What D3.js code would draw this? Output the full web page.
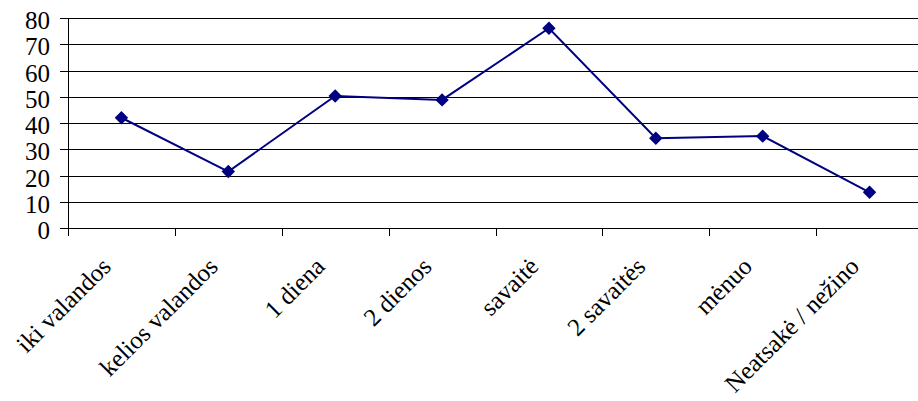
<!DOCTYPE html>
<html>
<head>
<meta charset="utf-8">
<script src="https://cdn.jsdelivr.net/npm/d3@7/dist/d3.min.js"></script>
<style>
  html, body { margin: 0; padding: 0; background: #fff; }
  svg { display: block; }
  text { font-family: "Liberation Serif", "Times New Roman", serif; fill: #000; }
</style>
</head>
<body>
<svg id="chart" width="918" height="401"></svg>
<script>
// Response categories (time periods) and percentages
const categories = ["iki valandos", "kelios valandos", "1 diena", "2 dienos", "savaitė", "2 savaitės", "mėnuo", "Neatsakė / nežino"];
const values = [42, 21.5, 50.3, 48.8, 76.1, 34.2, 35.0, 13.6];
const yTicks = [0, 10, 20, 30, 40, 50, 60, 70, 80];

(function () {
  const svg = d3.select("#chart");
  const plotLeft = 68, plotRight = 923, plotTop = 18, plotBottom = 228;

  const x = d3.scaleBand().domain(categories).range([plotLeft, plotRight]).paddingInner(0).paddingOuter(0);
  const y = d3.scaleLinear().domain([0, 80]).range([plotBottom, plotTop]);

  // horizontal gridlines
  svg.append("g").selectAll("line").data(yTicks).join("line")
    .attr("x1", plotLeft - 8).attr("x2", 918)
    .attr("y1", d => Math.round(y(d)) + 0.5).attr("y2", d => Math.round(y(d)) + 0.5)
    .attr("stroke", "#000").attr("stroke-width", 1);

  // y axis line
  svg.append("line")
    .attr("x1", plotLeft + 0.5).attr("x2", plotLeft + 0.5)
    .attr("y1", Math.round(y(80))).attr("y2", Math.round(y(0)) + 8)
    .attr("stroke", "#000");

  // y tick labels
  svg.append("g").selectAll("text").data(yTicks).join("text")
    .attr("x", 50).attr("y", d => y(d) + 11)
    .attr("text-anchor", "end")
    .attr("font-size", 25)
    .text(d => d);

  // x ticks at category boundaries
  const bounds = categories.map(c => x(c));
  svg.append("g").selectAll("line").data(bounds).join("line")
    .attr("x1", d => Math.round(d) + 0.5).attr("x2", d => Math.round(d) + 0.5)
    .attr("y1", Math.round(y(0))).attr("y2", Math.round(y(0)) + 8)
    .attr("stroke", "#000");

  // rotated category labels
  const cx = c => x(c) + x.bandwidth() / 2;
  svg.append("g").selectAll("text").data(categories).join("text")
    .attr("transform", c => `translate(${cx(c) - 9},268) rotate(-45)`)
    .attr("text-anchor", "end")
    .attr("font-size", 25)
    .text(c => c);

  // series line
  const line = d3.line().x((d, i) => cx(categories[i])).y(d => y(d));
  svg.append("path").datum(values)
    .attr("d", line)
    .attr("fill", "none")
    .attr("stroke", "#000080")
    .attr("stroke-width", 2);

  // diamond markers
  const diamond = d3.symbol().type(d3.symbolSquare).size(90);
  svg.append("g").selectAll("path").data(values).join("path")
    .attr("d", diamond)
    .attr("transform", (d, i) => `translate(${cx(categories[i])},${y(d)}) rotate(45)`)
    .attr("fill", "#000080");
})();
</script>
</body>
</html>
